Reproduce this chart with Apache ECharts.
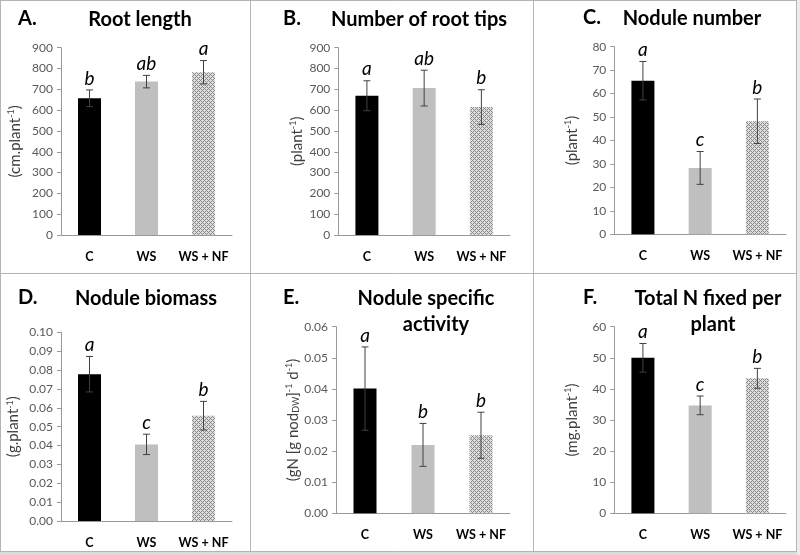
<!DOCTYPE html>
<html lang="en">
<head>
    <meta charset="UTF-8">
    <title>Root and nodule traits</title>
    <script src="https://cdn.jsdelivr.net/npm/echarts@6/dist/echarts.min.js"></script>
    <style>
        html, body { margin: 0; padding: 0; background: #fff; }
    </style>
</head>
<body>
<div id="main" style="width: 800px;height:555px;"></div>

<script type="text/javascript">
    // treatments
    var categories = ['C', 'WS', 'WS + NF'];

    // A. root length (cm.plant-1)
    var rootLength = [657, 737, 782];
    var rootLengthErr = [40, 30, 56];
    var rootLengthSig = ['b', 'ab', 'a'];
    // B. number of root tips
    var rootTips = [669, 706, 615];
    var rootTipsErr = [72, 86, 83];
    var rootTipsSig = ['a', 'ab', 'b'];
    // C. nodule number
    var noduleNumber = [65.5, 28.3, 48.2];
    var noduleNumberErr = [8.2, 7, 9.5];
    var noduleNumberSig = ['a', 'c', 'b'];
    // D. nodule biomass
    var noduleBiomass = [0.0778, 0.0406, 0.0558];
    var noduleBiomassErr = [0.0094, 0.0054, 0.0076];
    var noduleBiomassSig = ['a', 'c', 'b'];
    // E. nodule specific activity
    var noduleActivity = [0.0401, 0.0220, 0.0251];
    var noduleActivityErr = [0.0134, 0.0069, 0.0074];
    var noduleActivitySig = ['a', 'b', 'b'];
    // F. total N fixed per plant
    var totalNFixed = [50.0, 34.7, 43.4];
    var totalNFixedErr = [4.6, 3.0, 3.2];
    var totalNFixedSig = ['a', 'c', 'b'];

    // y axis ranges
    var axisMax = [900, 900, 80, 0.10, 0.06, 60];
    var axisStep = [100, 100, 10, 0.01, 0.01, 10];
    var axisDecimals = [0, 0, 0, 2, 2, 0];

    var FONT = 'Lato, "Open Sans", sans-serif';

    // hatched fill for WS + NF
    var pat = document.createElement('canvas');
    pat.width = 4; pat.height = 4;
    var pctx = pat.getContext('2d');
    pctx.fillStyle = '#dedede';
    pctx.fillRect(0, 0, 4, 4);
    pctx.fillStyle = '#8a8a8a';
    [[0, 0], [1, 1], [2, 2], [3, 3], [1, 3], [3, 1]].forEach(function (p) {
        pctx.fillRect(p[0], p[1], 1, 1);
    });
    var barColors = ['#000000', '#bfbfbf', {image: pat, repeat: 'repeat'}];

    var panels = [
        {vals: rootLength, err: rootLengthErr, sig: rootLengthSig,
         grid: {left: 61, top: 47.7, width: 171, height: 187.3}, nameX: 15,
         name: '{t|(cm.plant}{s|-1}{t|)}'},
        {vals: rootTips, err: rootTipsErr, sig: rootTipsSig,
         grid: {left: 338.3, top: 47.7, width: 171.7, height: 187.3}, nameX: 297,
         name: '{t|(plant}{s|-1}{t|)}'},
        {vals: noduleNumber, err: noduleNumberErr, sig: noduleNumberSig,
         grid: {left: 614.3, top: 46.7, width: 171.7, height: 187.6}, nameX: 572,
         name: '{t|(plant}{s|-1}{t|)}'},
        {vals: noduleBiomass, err: noduleBiomassErr, sig: noduleBiomassSig,
         grid: {left: 61, top: 332.3, width: 171, height: 188.7}, nameX: 13.5,
         name: '{t|(g.plant}{s|-1}{t|)}'},
        {vals: noduleActivity, err: noduleActivityErr, sig: noduleActivitySig,
         grid: {left: 336, top: 326.7, width: 174, height: 186.6}, nameX: 293,
         name: '{t|(gN [g nod}{b|DW}{t|]}{s|-1}{t| d}{s|-1}{t|)}'},
        {vals: totalNFixed, err: totalNFixedErr, sig: totalNFixedSig,
         grid: {left: 614.3, top: 326.7, width: 171.7, height: 186.6}, nameX: 572,
         name: '{t|(mg.plant}{s|-1}{t|)}'}
    ];

    function errRenderer(p) {
        return function (params, api) {
            var i = api.value(0), v = api.value(1), e = api.value(2);
            var top = api.coord([i, v + e]);
            var bot = api.coord([i, v - e]);
            var st = {stroke: '#404040', lineWidth: 1};
            return {
                type: 'group',
                children: [
                    {type: 'line', shape: {x1: top[0], y1: top[1], x2: bot[0], y2: bot[1]}, style: st},
                    {type: 'line', shape: {x1: top[0] - 3.5, y1: top[1], x2: top[0] + 3.5, y2: top[1]}, style: st},
                    {type: 'line', shape: {x1: bot[0] - 3.5, y1: bot[1], x2: bot[0] + 3.5, y2: bot[1]}, style: st},
                    {type: 'text', x: top[0], y: top[1] - 2,
                     style: {text: p.sig[params.dataIndex], fill: '#000', font: 'italic 19px ' + FONT,
                             textAlign: 'center', textVerticalAlign: 'bottom'}}
                ]
            };
        };
    }

    var nameRich = {
        t: {font: '15px ' + FONT, lineHeight: 16, fill: '#404040'},
        s: {font: '9px ' + FONT, lineHeight: 16, verticalAlign: 'top', fill: '#404040'},
        b: {font: '9px ' + FONT, lineHeight: 16, verticalAlign: 'bottom', fill: '#404040'}
    };

    var grids = [], xAxes = [], yAxes = [], series = [], nameLabels = [];
    panels.forEach(function (p, k) {
        grids.push(p.grid);
        xAxes.push({
            type: 'category', gridIndex: k, data: categories,
            axisLine: {lineStyle: {color: '#999'}},
            axisTick: {length: 5, lineStyle: {color: '#999'}},
            axisLabel: {interval: 0, hideOverlap: false, fontFamily: FONT, fontWeight: 'bold',
                        fontSize: 12.5, color: '#000', margin: 15}
        });
        yAxes.push({
            type: 'value', gridIndex: k, min: 0, max: axisMax[k], interval: axisStep[k],
            splitLine: {show: false},
            axisLine: {show: true, lineStyle: {color: '#999'}},
            axisTick: {show: true, length: 4, lineStyle: {color: '#999'}},
            axisLabel: {fontFamily: FONT, fontSize: 12, color: '#595959', margin: 8,
                        formatter: function (v) { return v.toFixed(axisDecimals[k]); }}
        });
        // rotated y-axis title
        nameLabels.push({
            type: 'text', z: 10, x: p.nameX, y: p.grid.top + p.grid.height / 2,
            rotation: Math.PI / 2,
            style: {text: p.name, rich: nameRich, align: 'center', verticalAlign: 'middle',
                    fill: '#404040', font: '15px ' + FONT}
        });
        series.push({
            type: 'bar', xAxisIndex: k, yAxisIndex: k, barWidth: 23,
            data: p.vals.map(function (v, i) { return {value: v, itemStyle: {color: barColors[i]}}; })
        });
        series.push({
            type: 'custom', xAxisIndex: k, yAxisIndex: k, z: 5,
            renderItem: errRenderer(p),
            data: p.vals.map(function (v, i) { return [i, v, p.err[i]]; })
        });
    });

    function txt(x, y, s, size, align) {
        return {type: 'text', x: x, y: y, z: 10,
                style: {text: s, font: 'bold ' + size + 'px ' + FONT, fill: '#000',
                        textAlign: align || 'center', textVerticalAlign: 'middle'}};
    }
    var lineStyle = {stroke: '#b4b4b4', lineWidth: 1};
    function ln(x1, y1, x2, y2) {
        return {type: 'line', z: 1, shape: {x1: x1, y1: y1, x2: x2, y2: y2}, style: lineStyle};
    }

    var graphics = [
        {type: 'rect', z: 0, shape: {x: 0, y: 552, width: 800, height: 3}, style: {fill: '#dcdcdc'}},
        {type: 'rect', z: 0, shape: {x: 797, y: 0, width: 3, height: 555}, style: {fill: '#ececec'}},
        ln(0, 0.5, 797, 0.5), ln(0.5, 0, 0.5, 552), ln(796.5, 0, 796.5, 552), ln(0, 551.5, 797, 551.5),
        ln(250.5, 0, 250.5, 552), ln(533.5, 0, 533.5, 552), ln(0, 273.5, 797, 273.5),
        txt(18, 19, 'A.', 20, 'left'), txt(140, 20, 'Root length', 20),
        txt(283, 19, 'B.', 20, 'left'), txt(419, 20, 'Number of root tips', 20),
        txt(583, 18, 'C.', 20, 'left'), txt(692, 19, 'Nodule number', 20),
        txt(18, 298, 'D.', 20, 'left'), txt(146, 299, 'Nodule biomass', 20),
        txt(283, 298, 'E.', 20, 'left'), txt(426, 299, 'Nodule specific', 20), txt(436, 325, 'activity', 20),
        txt(583, 298, 'F.', 20, 'left'), txt(708, 299, 'Total N fixed per', 20), txt(713, 325, 'plant', 20)
    ].concat(nameLabels);

    var myChart = echarts.init(document.getElementById('main'));
    var option = {
        animation: false,
        backgroundColor: '#fff',
        grid: grids,
        xAxis: xAxes,
        yAxis: yAxes,
        series: series,
        graphic: graphics
    };
    myChart.setOption(option);
</script>
</body>
</html>
